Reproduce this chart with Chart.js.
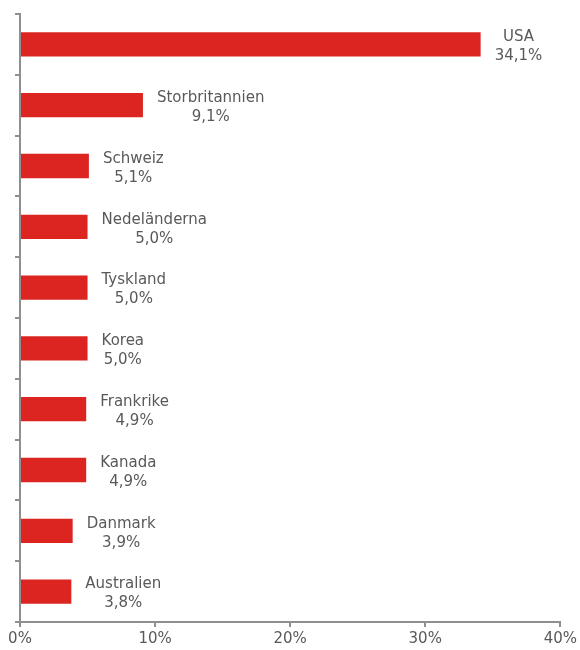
<!DOCTYPE html>
<html>
<head>
<meta charset="utf-8">
<script src="https://cdn.jsdelivr.net/npm/chart.js@4"></script>
<style>
  html, body { margin: 0; padding: 0; background: #fff; }
  #wrap { width: 580px; height: 650px; }
</style>
</head>
<body>
<div id="wrap"><canvas id="chart" width="580" height="650"></canvas></div>
<script>
const countries = ['USA', 'Storbritannien', 'Schweiz', 'Nedeländerna', 'Tyskland', 'Korea', 'Frankrike', 'Kanada', 'Danmark', 'Australien'];
const shares = [34.1, 9.1, 5.1, 5.0, 5.0, 5.0, 4.9, 4.9, 3.9, 3.8];
const xTicks = [0, 10, 20, 30, 40];

const RED = '#dc2521';
const AXIS = '#8f8f8f';
const TEXT = '#595959';
const FONT = '"DejaVu Sans", Verdana, sans-serif';

const fmt = v => v.toFixed(1).replace('.', ',') + '%';

// labels to the right of each bar: name over value, centred
const barLabels = {
    id: 'barLabels',
    afterDatasetsDraw(c) {
        const ctx = c.ctx;
        const meta = c.getDatasetMeta(0);
        ctx.save();
        ctx.font = '15px ' + FONT;
        ctx.fillStyle = TEXT;
        ctx.textAlign = 'center';
        ctx.textBaseline = 'middle';
        meta.data.forEach((bar, i) => {
            const name = countries[i];
            const val = fmt(shares[i]);
            const w = Math.max(ctx.measureText(name).width, ctx.measureText(val).width);
            const cx = bar.x + 14 + w / 2;
            ctx.fillText(name, cx, bar.y - 7);
            ctx.fillText(val, cx, bar.y + 12);
        });
        ctx.restore();
    }
};

new Chart(document.getElementById('chart'), {
    type: 'bar',
    data: {
        labels: countries,
        datasets: [{
            data: shares,
            backgroundColor: RED,
            borderWidth: 0,
            categoryPercentage: 1,
            barPercentage: 0.4
        }]
    },
    options: {
        indexAxis: 'y',
        responsive: false,
        animation: false,
        layout: { padding: { top: 14, right: 19, left: 0, bottom: 0 } },
        plugins: { legend: { display: false }, tooltip: { enabled: false } },
        scales: {
            x: {
                min: 0, max: 40,
                afterBuildTicks: s => { s.ticks = xTicks.map(v => ({ value: v })); },
                afterFit: s => { s.height = 28; },
                border: { color: AXIS, width: 2 },
                grid: { drawOnChartArea: false, color: AXIS, lineWidth: 2, tickLength: 5 },
                ticks: { color: TEXT, font: { family: FONT, size: 15 }, padding: 3, callback: v => v + '%' }
            },
            y: {
                offset: true,
                afterFit: s => { s.width = 20; },
                border: { color: AXIS, width: 2 },
                grid: { offset: true, drawOnChartArea: false, color: AXIS, lineWidth: 2, tickLength: 5 },
                ticks: { callback: () => '' }
            }
        }
    },
    plugins: [barLabels]
});
</script>
</body>
</html>
